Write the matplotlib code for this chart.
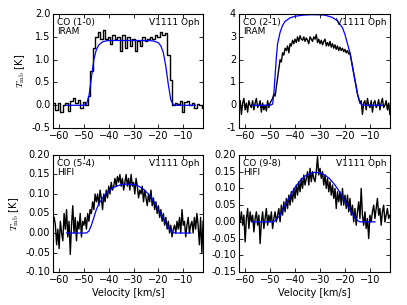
import numpy as np
import matplotlib
matplotlib.use("Agg")
import matplotlib.pyplot as plt
from matplotlib.ticker import FormatStrFormatter

plt.style.use("classic")
plt.rcParams.update({
    "font.size": 7,
    "figure.facecolor": "white",
    "savefig.facecolor": "white",
    "font.family": ["DejaVu Sans"],
    "mathtext.fontset": "cm",
})

# ---------------- data ----------------
# CO (1-0), channels of 1 km/s from -62 to -2
co10_start, co10_step = -62.0, 1.0
co10_T = [0.05, -0.1, 0.05, -0.15, 0.0, 0.05, -0.12, 0.1, 0.15, 0.05,
          0.12, -0.05, 0.08, 0.0, 0.2, 0.75, 1.25, 1.5, 1.6, 1.45,
          1.65, 1.45, 1.5, 1.35, 1.55, 1.45, 1.5, 1.2, 1.55, 1.25,
          1.5, 1.3, 1.45, 1.2, 1.4, 1.3, 1.5, 1.4, 1.45, 1.5,
          1.45, 1.55, 1.5, 1.6, 1.55, 1.58, 1.1, 0.55, 0.0, 0.05,
          0.02, 0.1, -0.15, 0.08, 0.1, 0.0, 0.05, -0.05, 0.03, 0.0,
          -0.05]

# CO (2-1), channels of 0.5 km/s from -62 to -2
co21_start, co21_step = -62.0, 0.5
co21_T = [0.2, -0.4, 0.1, 0.3, -0.2, 0.1, -0.3, 0.2, 0.0, -0.1,
          0.2, -0.2, 0.1, 0.3, -0.1, 0.0, 0.2, -0.3, 0.1, -0.2,
          0.0, -0.25, 0.2, -0.1, 0.1, 0.2, 0.3, 0.5, 0.4, 0.8,
          1.2, 1.6, 2.0, 1.9, 2.3, 2.2, 2.5, 2.4, 2.6, 2.3,
          2.7, 2.6, 2.85, 2.7, 2.9, 2.75, 3.0, 2.8, 3.05, 2.9,
          2.85, 3.0, 2.8, 2.95, 2.85, 2.7, 3.0, 2.9, 2.8, 3.0,
          2.9, 3.1, 2.75, 2.9, 2.7, 2.85, 2.65, 2.8, 2.9, 2.6,
          2.75, 2.6, 2.8, 2.55, 2.7, 2.5, 2.65, 2.45, 2.6, 2.4,
          2.55, 2.4, 2.5, 2.35, 2.45, 2.3, 2.4, 2.25, 2.3, 2.0,
          1.7, 1.4, 1.1, 0.8, 0.5, 0.3, 0.1, 0.2, -0.4, 0.1,
          0.2, -0.2, 0.3, 0.0, -0.1, 0.2, -0.3, 0.1, 0.2, -0.1,
          0.0, 0.25, -0.2, 0.1, 0.3, -0.1, 0.0, 0.2, -0.2, 0.1,
          -0.4]

# CO (5-4), channels of 0.5 km/s from -62 to -2
co54_start, co54_step = -62.0, 0.5
co54_T = [0.04, 0.02, -0.03, 0.01, -0.04, 0.03, 0.0, -0.02, 0.05, 0.01,
          0.06, -0.01, 0.03, -0.055, 0.02, 0.07, 0.0, 0.04, -0.02, 0.03,
          0.01, 0.05, -0.01, 0.03, 0.02, 0.04, 0.01, 0.05, 0.03, 0.06,
          0.05, 0.08, 0.06, 0.1, 0.08, 0.1, 0.07, 0.11, 0.09, 0.06,
          0.1, 0.08, 0.11, 0.09, 0.12, 0.1, 0.13, 0.11, 0.12, 0.14,
          0.12, 0.145, 0.13, 0.15, 0.12, 0.14, 0.11, 0.13, 0.15, 0.12,
          0.14, 0.11, 0.15, 0.12, 0.13, 0.1, 0.14, 0.12, 0.09, 0.11,
          0.1, 0.12, 0.08, 0.11, 0.09, 0.07, 0.1, 0.08, 0.11, 0.07,
          0.09, 0.06, 0.08, 0.05, 0.07, 0.04, 0.06, 0.03, 0.05, 0.02,
          0.04, 0.01, 0.03, 0.0, 0.02, -0.01, 0.01, 0.02, 0.0, 0.03,
          0.01, 0.04, 0.0, 0.06, 0.02, 0.03, -0.01, 0.02, 0.04, 0.0,
          0.02, 0.03, 0.0, 0.04, 0.01, 0.05, 0.02, -0.03, 0.04, -0.05,
          0.03]

# CO (9-8), channels of 0.5 km/s from -62 to -2
co98_start, co98_step = -62.0, 0.5
co98_T = [0.0, 0.03, -0.01, 0.02, -0.06, 0.01, 0.04, -0.02, 0.03, 0.0,
          0.02, -0.03, 0.01, 0.03, -0.01, 0.02, -0.065, 0.0, 0.03, -0.02,
          0.01, 0.04, -0.01, 0.02, 0.0, 0.03, -0.02, 0.01, 0.03, 0.0,
          0.02, 0.04, 0.0, 0.05, 0.02, 0.06, 0.03, 0.07, 0.04, 0.08,
          0.05, 0.09, 0.06, 0.1, 0.07, 0.11, 0.08, 0.12, 0.09, 0.13,
          0.1, 0.14, 0.11, 0.13, 0.15, 0.11, 0.16, 0.12, 0.15, 0.13,
          0.12, 0.15, 0.195, 0.14, 0.16, 0.13, 0.15, 0.11, 0.14, 0.1,
          0.13, 0.09, 0.12, 0.08, 0.11, 0.07, 0.1, 0.04, 0.09, 0.06,
          0.09, 0.05, 0.1, 0.05, 0.08, 0.04, 0.08, 0.03, 0.07, 0.02,
          0.05, 0.0, 0.04, -0.01, 0.03, 0.06, 0.01, 0.1, 0.02, -0.01,
          0.03, -0.02, 0.01, -0.05, 0.02, 0.0, 0.03, 0.05, 0.01, 0.04,
          0.07, 0.02, 0.04, -0.01, 0.03, 0.05, 0.0, 0.02, 0.04, 0.01,
          0.02]

# model profiles (blue)
m10_v = [-57, -50, -49, -48, -47, -46, -45, -44, -43, -42, -40, -35, -30, -25,
         -22, -20, -19, -18, -17, -16, -15, -14, -13, -5]
m10_T = [0, 0, 0.02, 0.2, 0.6, 1.0, 1.22, 1.32, 1.37, 1.4, 1.42, 1.42, 1.42, 1.42,
         1.41, 1.37, 1.3, 1.15, 0.85, 0.45, 0.12, 0.01, 0, 0]
m21_v = [-57, -50, -49, -48.5, -48, -47.5, -47, -46, -45, -44, -42, -40, -37, -34,
         -31, -28, -25, -23, -21, -20, -19, -18, -17, -16, -15, -14, -13, -5]
m21_T = [0, 0, 0.05, 0.5, 1.3, 2.1, 2.7, 3.2, 3.5, 3.68, 3.83, 3.9, 3.95, 3.97,
         3.97, 3.95, 3.85, 3.7, 3.4, 3.1, 2.7, 2.3, 1.7, 1.1, 0.5, 0.1, 0, 0]
m54_v = [-57, -49, -48, -47, -46, -45, -44, -42, -40, -38, -36, -34, -32, -30,
         -28, -26, -24, -22, -20, -18, -16, -15, -14, -13, -7]
m54_T = [0, 0, 0.005, 0.02, 0.04, 0.06, 0.075, 0.095, 0.108, 0.117, 0.122, 0.125,
         0.125, 0.124, 0.12, 0.112, 0.1, 0.082, 0.06, 0.036, 0.014, 0.006, 0.001, 0, 0]
m98_v = [-57, -49, -48, -46, -44, -42, -40, -38, -36, -34, -32, -30, -28, -26,
         -24, -22, -20, -18, -16, -15, -14, -8]
m98_T = [0, 0, 0.003, 0.02, 0.05, 0.078, 0.103, 0.123, 0.137, 0.145, 0.148, 0.146,
         0.14, 0.128, 0.11, 0.088, 0.062, 0.035, 0.012, 0.004, 0, 0]

lines = ["CO (1-0)\nIRAM", "CO (2-1)\nIRAM", "CO (5-4)\nHIFI", "CO (9-8)\nHIFI"]
source = "V1111 Oph"
ylims = [(-0.5, 2.0), (-1, 4), (-0.10, 0.20), (-0.15, 0.20)]
ytick_sets = [[-0.5, 0.0, 0.5, 1.0, 1.5, 2.0],
              [-1, 0, 1, 2, 3, 4],
              [-0.10, -0.05, 0.00, 0.05, 0.10, 0.15, 0.20],
              [-0.15, -0.10, -0.05, 0.00, 0.05, 0.10, 0.15, 0.20]]
yfmts = ["%.1f", "%d", "%.2f", "%.2f"]
xticks = [-60, -50, -40, -30, -20, -10]
drawstyles = ["steps-mid", "default", "default", "default"]

spectra = [(co10_start, co10_step, co10_T), (co21_start, co21_step, co21_T),
           (co54_start, co54_step, co54_T), (co98_start, co98_step, co98_T)]
models = [(m10_v, m10_T), (m21_v, m21_T), (m54_v, m54_T), (m98_v, m98_T)]

# ---------------- plot ----------------
fig = plt.figure(figsize=(4.07, 3.05), dpi=100)
boxes = [(0.130, 0.580, 0.369, 0.374), (0.587, 0.580, 0.371, 0.374),
         (0.130, 0.108, 0.369, 0.384), (0.587, 0.108, 0.371, 0.384)]

for i in range(4):
    ax = fig.add_axes(boxes[i])
    s0, ds, T = spectra[i]
    v = s0 + ds * np.arange(len(T))
    ax.plot(v, T, color="black", lw=1.0, drawstyle=drawstyles[i])
    mv, mT = models[i]
    ax.plot(mv, mT, color="blue", lw=0.9)
    ax.set_xlim(-62.5, -2)
    ax.set_ylim(*ylims[i])
    ax.set_xticks(xticks)
    ax.set_yticks(ytick_sets[i])
    ax.yaxis.set_major_formatter(FormatStrFormatter(yfmts[i]))
    ax.tick_params(direction="in", length=3, width=0.6, labelsize=7, pad=2,
                   top=True, right=True)
    for sp in ax.spines.values():
        sp.set_linewidth(0.8)
    ax.text(0.03, 0.965, lines[i], transform=ax.transAxes, ha="left", va="top",
            fontsize=6.5, linespacing=1.0)
    ax.text(0.975, 0.965, source, transform=ax.transAxes, ha="right", va="top",
            fontsize=6.5)
    if i % 2 == 0:
        ax.set_ylabel(r"$T_{\rm mb}$ [K]", fontsize=7, labelpad=3)
    if i >= 2:
        ax.set_xlabel("Velocity [km/s]", fontsize=7, labelpad=2)

fig.savefig("out.png", dpi=100)
